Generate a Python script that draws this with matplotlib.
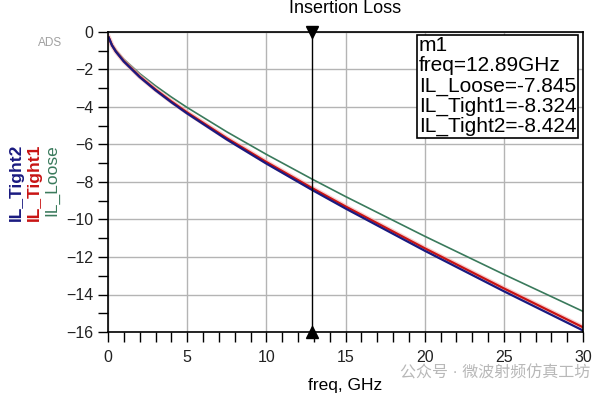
import numpy as np
import matplotlib.pyplot as plt
from matplotlib.ticker import MultipleLocator

plt.rcParams['font.family'] = ['Liberation Sans', 'Noto Sans CJK SC', 'DejaVu Sans']

# -----------------------------
# Data
# -----------------------------
freq = [0.05, 0.25, 0.5, 1, 2, 3, 4, 5, 7.5, 10, 12.89, 15, 20, 25, 30]
il_loose = [-0.275, -0.654, -0.967, -1.450, -2.217, -2.872, -3.468, -4.027,
            -5.323, -6.526, -7.845, -8.774, -10.891, -12.926, -14.90]
il_tight1 = [-0.296, -0.703, -1.038, -1.554, -2.370, -3.066, -3.699, -4.291,
             -5.662, -6.932, -8.324, -9.303, -11.533, -13.674, -15.75]
il_tight2 = [-0.301, -0.714, -1.053, -1.577, -2.405, -3.109, -3.749, -4.348,
             -5.734, -7.018, -8.424, -9.413, -11.664, -13.826, -15.92]

marker_freq = 12.89
marker_text = ["m1", "freq=12.89GHz", "IL_Loose=-7.845",
               "IL_Tight1=-8.324", "IL_Tight2=-8.424"]

c_loose = "#3a7a5c"
c_tight1 = "#c81414"
c_tight2 = "#1a1a80"

# -----------------------------
# Figure
# -----------------------------
fig = plt.figure(figsize=(5.97, 3.98), dpi=100)
ax = fig.add_axes([108 / 597, 1 - 332 / 398, 475 / 597, 300 / 398])

ax.plot(freq, il_loose, color=c_loose, lw=1.2)
ax.plot(freq, il_tight1, color="#f7b0b0", lw=3.5, alpha=0.6)
ax.plot(freq, il_tight1, color=c_tight1, lw=1.6)
ax.plot(freq, il_tight2, color=c_tight2, lw=1.6)

ax.set_xlim(0, 30)
ax.set_ylim(-16, 0)
ax.xaxis.set_major_locator(MultipleLocator(5))
ax.xaxis.set_minor_locator(MultipleLocator(1))
ax.yaxis.set_major_locator(MultipleLocator(2))
ax.yaxis.set_minor_locator(MultipleLocator(1))
ax.tick_params(which="both", direction="out", length=7, width=1, color="black",
               labelsize=11.5, labelcolor="#222222")
ax.tick_params(axis="x", pad=6)
ax.grid(True, which="major", color="#b4b4b4", lw=1)
for s in ax.spines.values():
    s.set_color("black")
    s.set_linewidth(1.2)

# marker line
ax.axvline(marker_freq, color="black", lw=1)
ax.plot([marker_freq], [0], marker="v", color="black", ms=8, clip_on=False)
ax.plot([marker_freq], [-16], marker="^", color="black", ms=8, clip_on=False)

# marker readout box
ax.text(0.654, 0.985, "\n".join(marker_text), transform=ax.transAxes,
        ha="left", va="top", fontsize=15, linespacing=1.06, color="black",
        bbox=dict(boxstyle="square,pad=0.1", fc="white", ec="black", lw=1.2))

ax.set_title("Insertion Loss", fontsize=13, pad=14)
ax.set_xlabel("freq, GHz", fontsize=12.5, labelpad=9)

# stacked y labels
fig.text(16 / 597, 1 - 182 / 398, "IL_Tight2", rotation=90, color=c_tight2,
         fontsize=12.5, fontweight="bold", ha="center", va="center")
fig.text(34 / 597, 1 - 182 / 398, "IL_Tight1", rotation=90, color=c_tight1,
         fontsize=12.5, fontweight="bold", ha="center", va="center")
fig.text(52 / 597, 1 - 180 / 398, "IL_Loose", rotation=90, color=c_loose,
         fontsize=12.5, ha="center", va="center")

fig.text(50 / 597, 1 - 43 / 398, "ADS", color="#a0a0a0", fontsize=8.5,
         ha="center", va="center")
fig.text(590 / 597, 1 - 373 / 398, "公众号 · 微波射频仿真工坊", color="#b8b8b8",
         fontsize=11.5, ha="right", va="center")

fig.savefig("out.png", dpi=100)
